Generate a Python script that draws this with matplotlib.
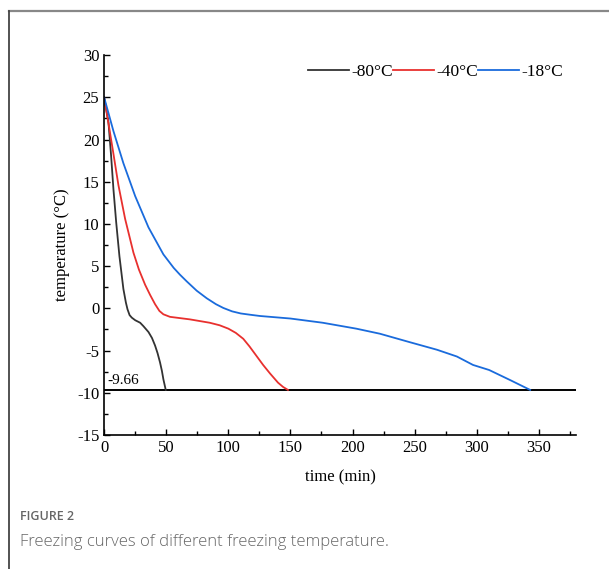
import matplotlib
matplotlib.use("Agg")
import matplotlib.pyplot as plt
from matplotlib.lines import Line2D
from matplotlib.ticker import MultipleLocator

plt.rcParams["axes.unicode_minus"] = False

# ---- data ----
t_80 = [0, 3.5, 5.6, 7.5, 9.7, 12.3, 15.5, 17.5, 18.8, 20.5, 22.3, 25, 29, 31.6, 35.7,
        38.5, 41, 43, 45, 46.5, 47.7, 49.6]
T_80 = [25, 22.0, 18.1, 14.1, 10.2, 6.2, 2.3, 0.7, -0.1, -0.8, -1.1, -1.4, -1.7, -2.1,
        -2.8, -3.5, -4.4, -5.3, -6.4, -7.4, -8.4, -9.66]

t_40 = [0, 4.3, 7.5, 11.5, 16.9, 23.6, 28, 33, 37, 41, 44.5, 47.7, 53, 61, 69, 77, 85,
        93, 100, 106, 112, 117, 123, 128, 133.5, 140, 144, 148]
T_40 = [25, 21.2, 18.3, 14.6, 10.6, 6.6, 4.6, 2.8, 1.6, 0.5, -0.3, -0.7, -1.0, -1.15,
        -1.3, -1.5, -1.7, -2.0, -2.4, -2.9, -3.6, -4.5, -5.7, -6.7, -7.7, -8.8, -9.3, -9.66]

t_18 = [0, 7.5, 15.5, 25, 35.7, 47.7, 56, 61, 66.5, 74.5, 82.6, 90, 96, 103, 110,
        117.5, 125.5, 150, 176, 203, 222, 246, 268, 284, 297, 310, 327, 343]
T_18 = [25, 21.0, 17.2, 13.3, 9.6, 6.4, 4.8, 4.0, 3.2, 2.1, 1.2, 0.5, 0.05, -0.35, -0.6,
        -0.75, -0.9, -1.2, -1.7, -2.4, -3.0, -4.0, -4.9, -5.7, -6.7, -7.3, -8.5, -9.66]

labels = ["-80°C", "-40°C", "-18°C"]
ref_value = -9.66
x_ticks = [0, 50, 100, 150, 200, 250, 300, 350]
y_ticks = [-15, -10, -5, 0, 5, 10, 15, 20, 25, 30]

serif = ["Liberation Serif", "DejaVu Serif"]

fig = plt.figure(figsize=(6.09, 5.69), dpi=100)
ax = fig.add_axes([0.171, 0.2355, 0.775, 0.6675])

ax.plot(t_80, T_80, color="#333333", lw=1.3, label=labels[0])
ax.plot(t_40, T_40, color="#e8302e", lw=1.3, label=labels[1])
ax.plot(t_18, T_18, color="#1a6bdc", lw=1.3, label=labels[2])
ax.axhline(ref_value, color="black", lw=1.4, zorder=1)
ax.text(3, ref_value + 0.35, "-9.66", fontsize=11, family=serif, va="bottom", ha="left")

ax.set_xlim(0, 380)
ax.set_ylim(-15, 30)
ax.set_xticks(x_ticks)
ax.set_yticks(y_ticks)
ax.xaxis.set_minor_locator(MultipleLocator(25))
ax.yaxis.set_minor_locator(MultipleLocator(2.5))
ax.tick_params(which="both", direction="in", width=1.0, labelsize=12)
ax.tick_params(which="major", length=4)
ax.tick_params(which="minor", length=3)
for lab in ax.get_xticklabels() + ax.get_yticklabels():
    lab.set_family(serif)
ax.spines["top"].set_visible(False)
ax.spines["right"].set_visible(False)
ax.spines["left"].set_linewidth(1.2)
ax.spines["bottom"].set_linewidth(1.2)

ax.set_xlabel("time (min)", fontsize=12, family=serif, labelpad=10)
ax.set_ylabel("temperature (°C)", fontsize=12, family=serif, labelpad=5)

leg = ax.legend(loc="upper right", bbox_to_anchor=(0.995, 1.005), ncol=3, frameon=False,
                handlelength=2.35, handletextpad=0.15, columnspacing=0.0,
                prop={"family": serif, "size": 12.5}, borderaxespad=0.2)

# page frame lines
fig.add_artist(Line2D([9 / 609, 1.0], [1 - 11 / 569, 1 - 11 / 569], color="#888888", lw=1.6))
fig.add_artist(Line2D([9 / 609, 9 / 609], [0, 1 - 11 / 569], color="#444444", lw=1.3))

fig.text(20 / 609, 1 - 517 / 569, "FIGURE 2", fontsize=9, family="Open Sans",
         fontweight="semibold", color="#666666", va="center")
fig.text(20 / 609, 1 - 542 / 569, "Freezing curves of different freezing temperature.",
         fontsize=12, family="Open Sans", fontweight="light", color="#666666", va="center")

fig.savefig("out.png", dpi=100)
